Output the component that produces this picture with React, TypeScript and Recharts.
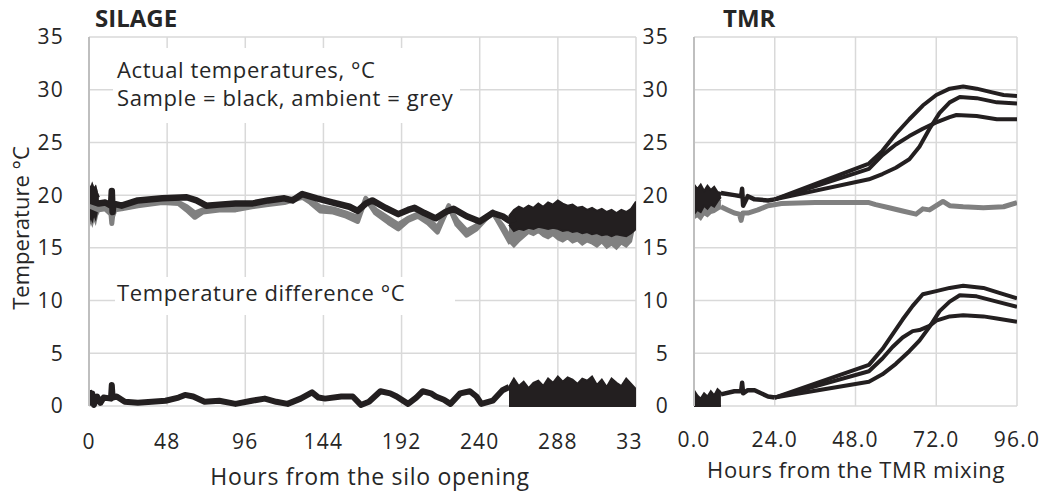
import React from 'react'
import { ComposedChart, Line, Area, XAxis, YAxis, CartesianGrid } from 'recharts'

// ---- SILAGE: sample temperature (black) ----
const silageSampleHours = [0, 6, 10, 13.5, 14, 14.5, 15, 20, 30, 45, 60, 66, 72, 80, 90, 100, 110, 120, 125, 131, 140, 150, 160, 165, 170, 174, 182, 190, 196, 200, 206, 213, 219, 224, 232, 240, 248, 254, 258, 262]
const silageSampleTemp = [19.5, 19.2, 19.3, 19.0, 20.4, 18.4, 19.2, 19.0, 19.5, 19.7, 19.8, 19.5, 19.0, 19.1, 19.2, 19.2, 19.5, 19.7, 19.5, 20.1, 19.7, 19.3, 18.9, 18.5, 19.2, 19.5, 18.8, 18.2, 18.6, 18.8, 18.3, 17.8, 18.4, 18.7, 18.0, 17.5, 18.3, 18.0, 17.6, 17.8]

// noisy stretches, drawn as min/max envelopes
const silageStartHours = [0, 1, 2, 3, 4, 5, 6]
const silageStartLow = [17.4, 18.0, 17.6, 18.2, 17.8, 18.5, 18.8]
const silageStartHigh = [21.0, 20.5, 21.0, 20.6, 20.8, 20.2, 19.8]

const silageNoiseHours = [258, 261, 264, 267, 270, 273, 276, 279, 282, 285, 288, 291, 294, 297, 300, 303, 306, 309, 312, 315, 318, 321, 324, 327, 330, 333, 336]
const silageSampleLow = [17.2, 16.6, 16.8, 16.7, 16.9, 16.8, 17.0, 16.9, 16.8, 16.9, 16.8, 16.6, 16.7, 16.5, 16.6, 16.4, 16.5, 16.3, 16.4, 16.2, 16.3, 16.1, 16.3, 16.2, 16.1, 16.4, 16.8]
const silageSampleHigh = [18.0, 18.6, 18.9, 18.7, 19.0, 18.8, 19.2, 18.9, 19.3, 19.1, 19.5, 19.2, 19.0, 19.1, 18.8, 18.9, 18.6, 18.8, 18.5, 18.7, 18.4, 18.6, 18.3, 18.6, 18.4, 18.7, 19.4]
const silageAmbientLow = [15.6, 15.1, 15.6, 16.0, 16.4, 16.2, 16.5, 16.1, 15.9, 16.2, 15.8, 15.6, 15.9, 15.5, 15.7, 15.3, 15.6, 15.4, 15.1, 15.5, 15.0, 15.3, 14.9, 15.4, 15.1, 15.6, 17.8]
const silageAmbientHigh = [17.4, 16.8, 17.1, 17.0, 17.2, 17.1, 17.3, 17.2, 17.1, 17.2, 17.1, 16.9, 17.0, 16.8, 16.9, 16.7, 16.8, 16.6, 16.7, 16.5, 16.6, 16.4, 16.6, 16.5, 16.4, 16.8, 19.0]
const silageDiffHigh = [1.8, 2.6, 1.9, 2.3, 1.7, 2.2, 2.4, 1.9, 2.6, 2.2, 2.8, 2.3, 2.7, 2.5, 2.1, 2.6, 2.4, 2.8, 2.0, 2.5, 1.8, 2.6, 2.2, 1.9, 2.6, 2.1, 1.6]

// ---- SILAGE: ambient temperature (grey, two loggers) ----
const silageAmbientHours = [0, 6, 10, 13.5, 14, 14.5, 16, 20, 30, 45, 55, 60, 65, 70, 80, 90, 100, 110, 120, 131, 136, 142, 150, 158, 165, 170, 176, 184, 190, 196, 202, 208, 214, 221, 226, 232, 238, 244, 248, 254, 259]
const silageAmbientA = [19.0, 18.6, 18.7, 18.2, 17.3, 18.0, 18.6, 18.7, 19.0, 19.3, 19.2, 18.6, 17.9, 18.4, 18.6, 18.6, 18.9, 19.1, 19.3, 19.8, 19.3, 18.5, 18.4, 18.0, 17.5, 19.7, 18.3, 17.4, 16.8, 17.6, 18.0, 17.4, 16.5, 19.0, 17.2, 16.2, 16.8, 17.8, 18.4, 16.8, 15.4]
const silageAmbientB = [19.2, 18.9, 18.9, 18.5, 18.6, 18.4, 18.8, 18.9, 19.1, 19.4, 19.3, 18.9, 18.3, 18.6, 18.8, 18.8, 19.0, 19.2, 19.4, 19.9, 19.5, 18.9, 18.7, 18.3, 17.9, 19.5, 18.6, 17.8, 17.2, 17.8, 18.2, 17.8, 16.9, 18.8, 17.6, 16.6, 17.1, 17.9, 18.3, 17.1, 15.8]

// ---- SILAGE: temperature difference ----
const silageDiffHours = [0, 1, 2, 3, 5, 7, 9, 13.5, 14, 14.5, 17, 22, 30, 47, 55, 59, 64, 71, 80, 90, 100, 108, 115, 122, 130, 137, 141, 145, 155, 162, 167, 172, 179, 185, 189, 196, 201, 205, 210, 213, 218, 222, 228, 234, 238, 241, 248, 254, 258]
const silageDiff = [1.5, 0.3, 1.2, 0.1, 0.9, 0.3, 0.8, 0.7, 2.0, 0.8, 0.9, 0.4, 0.3, 0.5, 0.8, 1.05, 0.9, 0.4, 0.5, 0.2, 0.5, 0.7, 0.4, 0.2, 0.7, 1.3, 0.8, 0.7, 0.9, 0.9, 0.1, 0.4, 1.4, 1.2, 0.9, 0.2, 0.8, 1.4, 1.2, 0.9, 0.6, 0.2, 1.2, 1.4, 0.9, 0.2, 0.5, 1.5, 1.8]

// ---- TMR ----
const tmrStartHours = [0, 1, 2, 3, 4, 5, 6, 7, 8]
const tmrSampleLow = [18.2, 18.6, 18.4, 19.0, 18.7, 19.1, 18.9, 19.4, 19.8]
const tmrSampleHigh = [21.0, 20.6, 21.0, 20.4, 20.9, 20.5, 20.8, 20.3, 20.2]
const tmrAmbientLow = [17.8, 18.0, 17.7, 18.2, 18.0, 18.3, 18.4, 18.6, 18.8]
const tmrAmbientHigh = [21.0, 20.5, 20.8, 20.2, 20.4, 20.0, 19.8, 19.6, 19.4]
const tmrDiffHigh = [1.5, 1.0, 0.7, 1.2, 0.9, 1.4, 1.0, 1.6, 1.3]

const tmrEarlyHours = [8, 12, 14, 14.3, 14.6, 16, 18, 22, 24]
const tmrEarlySample = [20.2, 20.0, 19.9, 20.6, 19.0, 19.9, 19.6, 19.5, 19.6]
const tmrEarlyDiff = [1.1, 1.4, 1.4, 2.2, 1.2, 1.5, 1.5, 0.9, 0.8]

const tmrSample1Hours = [24, 52, 56, 60, 64, 68, 72, 76, 80, 84, 88, 92, 96]
const tmrSample1 = [19.6, 23.0, 24.2, 25.8, 27.2, 28.5, 29.5, 30.1, 30.3, 30.1, 29.8, 29.5, 29.4]
const tmrSample2Hours = [24, 52, 56, 60, 64, 68, 72, 76, 78, 84, 90, 96]
const tmrSample2 = [19.6, 22.5, 23.8, 24.8, 25.6, 26.3, 26.9, 27.4, 27.6, 27.5, 27.2, 27.2]
const tmrSample3Hours = [24, 52, 56, 60, 64, 67, 70, 73, 76, 79, 84, 90, 96]
const tmrSample3 = [19.6, 21.5, 22.0, 22.6, 23.4, 24.6, 26.3, 27.8, 28.8, 29.3, 29.2, 28.8, 28.7]

const tmrAmbientHours = [8, 10, 12, 13.5, 14, 14.5, 16, 19, 22, 26, 36, 46, 52, 54, 58, 62, 66, 68, 70, 72, 74, 76, 80, 86, 92, 96]
const tmrAmbient = [18.9, 18.6, 18.3, 18.2, 17.6, 18.3, 18.3, 18.6, 19.0, 19.2, 19.3, 19.3, 19.3, 19.1, 18.8, 18.5, 18.2, 18.7, 18.6, 19.0, 19.4, 19.0, 18.9, 18.8, 18.9, 19.3]

const tmrDiff1Hours = [24, 52, 56, 59, 62, 65, 68, 72, 76, 80, 86, 90, 96]
const tmrDiff1 = [0.8, 3.9, 5.4, 6.8, 8.2, 9.5, 10.6, 10.9, 11.2, 11.4, 11.2, 10.8, 10.2]
const tmrDiff2Hours = [24, 52, 56, 59, 62, 65, 67, 70, 72, 76, 80, 86, 90, 96]
const tmrDiff2 = [0.8, 3.3, 4.5, 5.6, 6.5, 7.1, 7.2, 7.6, 8.1, 8.5, 8.6, 8.5, 8.3, 8.0]
const tmrDiff3Hours = [24, 52, 56, 60, 64, 67, 70, 73, 76, 79, 84, 90, 96]
const tmrDiff3 = [0.8, 2.3, 3.0, 4.0, 5.2, 6.2, 7.5, 9.0, 9.9, 10.5, 10.4, 9.9, 9.4]

const tempTicks = [0, 5, 10, 15, 20, 25, 30, 35]
const silageTicks = [0, 48, 96, 144, 192, 240, 288, 336]
const tmrTicks = [0, 24, 48, 72, 96]

const BLACK = '#231f20'
const GREY = '#808080'
const GRID = '#d9d9d9'
const TEXT = '#262626'
const FONT = '"Open Sans", "Noto Sans", sans-serif'

const pts = (hs: number[], vs: number[]) => hs.map((h, i) => ({ h, v: vs[i] }))
const band = (hs: number[], lo: number[] | number, hi: number[]) =>
  hs.map((h, i) => ({ h, r: [Array.isArray(lo) ? lo[i] : lo, hi[i]] }))

const tick = { fontSize: 21, fill: TEXT, fontFamily: FONT, letterSpacing: 1.2 }

function trace(key: string, data: any[], color: string, width: number) {
  return (
    <Line
      key={key}
      data={data}
      dataKey="v"
      type="linear"
      stroke={color}
      strokeWidth={width}
      strokeLinejoin="round"
      dot={false}
      isAnimationActive={false}
    />
  )
}

function envelope(key: string, data: any[], color: string) {
  return (
    <Area
      key={key}
      data={data}
      dataKey="r"
      type="linear"
      stroke={color}
      strokeWidth={2}
      fill={color}
      fillOpacity={1}
      dot={false}
      activeDot={false}
      isAnimationActive={false}
    />
  )
}

const text = (extra: React.CSSProperties): React.CSSProperties => ({
  position: 'absolute',
  fontFamily: FONT,
  color: TEXT,
  lineHeight: 1,
  whiteSpace: 'nowrap',
  ...extra,
})

export default function App() {
  return (
    <div style={{ position: 'absolute', left: 0, top: 0, width: 1049, height: 493, background: '#fff', fontFamily: FONT }}>
      <div style={{ position: 'absolute', left: 0, top: 0 }}>
        <ComposedChart width={660} height={493} margin={{ top: 37, right: 24, bottom: 57, left: 0 }}>
          <CartesianGrid stroke={GRID} strokeWidth={1.5} />
          <XAxis
            dataKey="h"
            type="number"
            domain={[0, 336]}
            ticks={silageTicks}
            allowDataOverflow
            height={30}
            axisLine={false}
            tickLine={false}
            tickSize={0}
            tickMargin={28}
            tick={tick}
          />
          <YAxis
            type="number"
            domain={[0, 35]}
            ticks={tempTicks}
            width={89}
            axisLine={{ stroke: '#bfbfbf', strokeWidth: 2 }}
            tickLine={false}
            tickSize={0}
            tickMargin={25}
            tick={tick}
          />
          {envelope('sa-start', band(silageStartHours, silageStartLow.map((v) => v - 0.4), silageStartHigh), GREY)}
          {envelope('sa-noise', band(silageNoiseHours, silageAmbientLow, silageAmbientHigh), GREY)}
          {trace('sa-a', pts(silageAmbientHours, silageAmbientA), GREY, 5)}
          {trace('sa-b', pts(silageAmbientHours, silageAmbientB), GREY, 5)}
          {envelope('ss-start', band(silageStartHours, silageStartLow, silageStartHigh), BLACK)}
          {envelope('ss-noise', band(silageNoiseHours, silageSampleLow, silageSampleHigh), BLACK)}
          {trace('ss', pts(silageSampleHours, silageSampleTemp), BLACK, 6.5)}
          {envelope('sd-noise', band(silageNoiseHours, 0, silageDiffHigh), BLACK)}
          {trace('sd', pts(silageDiffHours, silageDiff), BLACK, 6)}
        </ComposedChart>
      </div>

      <div style={{ position: 'absolute', left: 641, top: 0, width: 408, height: 493, background: '#fff' }}>
        <ComposedChart width={408} height={493} margin={{ top: 37, right: 32, bottom: 57, left: 0 }}>
          <CartesianGrid stroke={GRID} strokeWidth={1.5} />
          <XAxis
            dataKey="h"
            type="number"
            domain={[0, 96]}
            ticks={tmrTicks}
            allowDataOverflow
            height={30}
            axisLine={false}
            tickLine={false}
            tickSize={0}
            tickMargin={26}
            tick={tick}
            tickFormatter={(v: number) => v.toFixed(1)}
          />
          <YAxis
            type="number"
            domain={[0, 35]}
            ticks={tempTicks}
            width={53}
            axisLine={{ stroke: '#bfbfbf', strokeWidth: 2 }}
            tickLine={false}
            tickSize={0}
            tickMargin={25}
            tick={tick}
          />
          {envelope('ta-start', band(tmrStartHours, tmrAmbientLow, tmrAmbientHigh), GREY)}
          {trace('ta', pts(tmrAmbientHours, tmrAmbient), GREY, 5)}
          {envelope('ts-start', band(tmrStartHours, tmrSampleLow, tmrSampleHigh), BLACK)}
          {trace('ts-early', pts(tmrEarlyHours, tmrEarlySample), BLACK, 4.5)}
          {trace('ts1', pts(tmrSample1Hours, tmrSample1), BLACK, 4)}
          {trace('ts2', pts(tmrSample2Hours, tmrSample2), BLACK, 4)}
          {trace('ts3', pts(tmrSample3Hours, tmrSample3), BLACK, 4)}
          {envelope('td-start', band(tmrStartHours, 0, tmrDiffHigh), BLACK)}
          {trace('td-early', pts(tmrEarlyHours, tmrEarlyDiff), BLACK, 4.5)}
          {trace('td1', pts(tmrDiff1Hours, tmrDiff1), BLACK, 4)}
          {trace('td2', pts(tmrDiff2Hours, tmrDiff2), BLACK, 4)}
          {trace('td3', pts(tmrDiff3Hours, tmrDiff3), BLACK, 4)}
        </ComposedChart>
      </div>

      {/* panel titles */}
      <div style={text({ left: 95, top: 6, fontSize: 24, fontWeight: 700 })}>SILAGE</div>
      <div style={text({ left: 723, top: 6, fontSize: 24, fontWeight: 700 })}>TMR</div>

      {/* in-plot notes sit on white boxes over the grid */}
      <div style={{ position: 'absolute', left: 113, top: 48, width: 347, height: 75, background: '#fff' }} />
      <div style={text({ left: 117, top: 58, fontSize: 22, letterSpacing: 0.6 })}>Actual temperatures, °C</div>
      <div style={text({ left: 117, top: 86, fontSize: 22, letterSpacing: 0.6 })}>Sample = black, ambient = grey</div>
      <div style={{ position: 'absolute', left: 115, top: 277, width: 340, height: 38, background: '#fff' }} />
      <div style={text({ left: 117, top: 281, fontSize: 22, letterSpacing: 0.6 })}>Temperature difference °C</div>

      {/* axis titles */}
      <div style={text({ left: 370, top: 465, fontSize: 23, letterSpacing: 0.7, transform: 'translateX(-50%)' })}>Hours from the silo opening</div>
      <div style={text({ left: 856, top: 458, fontSize: 22, letterSpacing: 0.6, transform: 'translateX(-50%)' })}>Hours from the TMR mixing</div>
      <div style={text({ left: 20, top: 228, fontSize: 22, transform: 'translate(-50%, -50%) rotate(-90deg)' })}>Temperature °C</div>
    </div>
  )
}
